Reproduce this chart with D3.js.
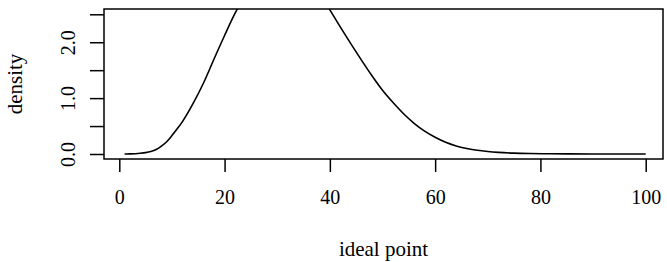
<!DOCTYPE html>
<html>
<head>
<meta charset="utf-8">
<script src="https://cdn.jsdelivr.net/npm/d3@7/dist/d3.min.js"></script>
<style>
  html, body { margin: 0; padding: 0; background: #fff; }
  svg { display: block; }
</style>
</head>
<body>
<script>
// Data (density curve, clipped at the top)
const idealPoint = [1, 2, 3, 4, 5, 6, 7, 8, 9, 10, 11, 12, 14, 16, 18, 20, 22, 24, 26, 28, 30, 32, 34, 36, 38, 40,
  42, 44, 46, 48, 50, 52, 54, 56, 58, 60, 62, 64, 66, 68, 70, 72, 75, 78, 82, 90, 100];
const density = [0.000, 0.002, 0.005, 0.012, 0.024, 0.045, 0.08, 0.14, 0.22, 0.33, 0.45, 0.58, 0.90, 1.27,
  1.70, 2.12, 2.52, 2.85, 3.10, 3.28, 3.38, 3.40, 3.32, 3.15, 2.90, 2.58, 2.27, 1.97, 1.68, 1.40, 1.14,
  0.92, 0.72, 0.55, 0.41, 0.30, 0.21, 0.145, 0.10, 0.066, 0.044, 0.029, 0.015, 0.008, 0.004, 0.001, 0.0];
const xTicks = [0, 20, 40, 60, 80, 100];
const yTicks = [0, 0.5, 1.0, 1.5, 2.0, 2.5];
const yTickLabels = ["0.0", "", "1.0", "", "2.0", ""];
const xLabel = "ideal point";
const yLabel = "density";

const FONT = "'Liberation Serif', 'Times New Roman', Times, serif";
const W = 667, H = 262;
const box = { left: 104, right: 663, top: 9, bottom: 159 };

const x = d3.scaleLinear().domain([0, 100]).range([119.3, 645.7]);
const y = d3.scaleLinear().domain([0, 2.5]).range([154, 14.3]);

const svg = d3.select("body").append("svg").attr("width", W).attr("height", H);

svg.append("defs").append("clipPath").attr("id", "clip")
  .append("rect")
  .attr("x", box.left).attr("y", box.top)
  .attr("width", box.right - box.left).attr("height", box.bottom - box.top);

const pts = idealPoint.map((v, i) => [v, density[i]]);
const line = d3.line().x(d => x(d[0])).y(d => y(d[1])).curve(d3.curveMonotoneX);

svg.append("path")
  .datum(pts)
  .attr("clip-path", "url(#clip)")
  .attr("d", line)
  .attr("fill", "none")
  .attr("stroke", "#000")
  .attr("stroke-width", 1.6);

svg.append("rect")
  .attr("x", box.left).attr("y", box.top)
  .attr("width", box.right - box.left).attr("height", box.bottom - box.top)
  .attr("fill", "none").attr("stroke", "#000").attr("stroke-width", 1.5);

// X axis
const xAxis = d3.axisBottom(x).tickValues(xTicks).tickSize(13).tickFormat(d3.format("d"));
const gx = svg.append("g").attr("transform", `translate(0,${box.bottom})`).call(xAxis);
gx.attr("font-family", null).attr("font-size", null);
gx.select(".domain").remove();
gx.selectAll(".tick line").attr("stroke", "#000").attr("stroke-width", 1.5);
gx.selectAll(".tick text")
  .style("font-family", FONT).style("font-size", "20px").attr("fill", "#000")
  .attr("dy", null).attr("y", 45.3);

// Y axis
const yAxis = d3.axisLeft(y).tickValues(yTicks).tickSize(14).tickFormat((d, i) => yTickLabels[i]);
const gy = svg.append("g").attr("transform", `translate(${box.left},0)`).call(yAxis);
gy.attr("font-family", null).attr("font-size", null);
gy.select(".domain").remove();
gy.selectAll(".tick line").attr("stroke", "#000").attr("stroke-width", 1.5);
gy.selectAll(".tick text")
  .style("font-family", FONT).style("font-size", "20px").attr("fill", "#000")
  .attr("x", null).attr("dy", null)
  .attr("text-anchor", "middle")
  .attr("transform", "translate(-29,0) rotate(-90)");

// Axis titles
svg.append("text")
  .attr("x", (box.left + box.right) / 2).attr("y", 256)
  .attr("text-anchor", "middle")
  .style("font-family", FONT).style("font-size", "21px")
  .text(xLabel);

svg.append("text")
  .attr("transform", `translate(21.5,${(box.top + box.bottom) / 2}) rotate(-90)`)
  .attr("text-anchor", "middle")
  .style("font-family", FONT).style("font-size", "21px")
  .text(yLabel);
</script>
</body>
</html>
